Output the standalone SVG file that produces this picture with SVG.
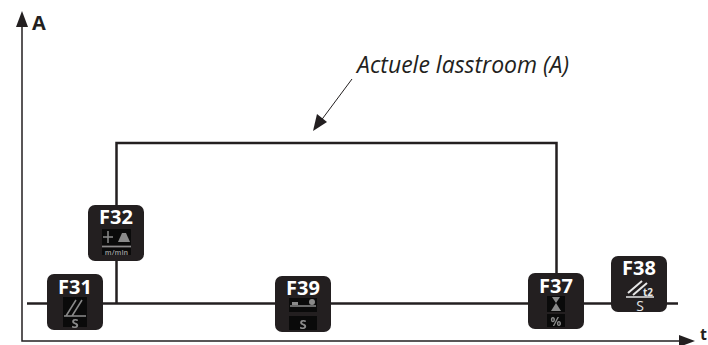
<svg xmlns="http://www.w3.org/2000/svg" width="708" height="345" viewBox="0 0 708 345">
<defs><filter id="soft" x="-10%" y="-10%" width="120%" height="120%"><feGaussianBlur stdDeviation="0.6"/></filter></defs>
<style>
.box{fill:#231f20}
.fn{font:700 20px "Open Sans","Noto Sans",sans-serif;fill:#fff;text-anchor:middle}
.ic{fill:#8a8a8a}
.ict{font:700 13px "Open Sans",sans-serif;fill:#8a8a8a;text-anchor:middle}
.icl{stroke:#8a8a8a;stroke-width:1.5;fill:none}
.blk{fill:#0a0a0a}
.ax{stroke:#231f20;stroke-width:1.5;fill:none}
.ln{stroke:#231f20;stroke-width:2.5;fill:none}
.lab{font-family:"Open Sans","Noto Sans",sans-serif;fill:#231f20}
</style>
<g id="connectors">
<path class="ax" d="M22 27V341H680"/>
<path d="M22 11L28 27H16Z" fill="#231f20"/>
<path d="M695 341L679 335V347Z" fill="#231f20"/>
<path class="ln" d="M27 303.500H678"/>
<path class="ln" d="M116.500 303.500V143H556.500V273"/>
<path d="M352 79L320 122" stroke="#231f20" stroke-width="1" fill="none"/>
<path d="M313 131L317 114L327 122Z" fill="#231f20"/>
</g>
<g id="labels">
<text class="lab" x="32" y="30" font-size="20" font-weight="700">A</text>
<text class="lab" x="700" y="340" font-size="16" font-weight="700">t</text>
<text class="lab" x="357" y="73" font-size="23" font-style="italic">Actuele lasstroom (A)</text>
</g>
<g id="F31">
<rect class="box" x="47" y="274" width="56" height="56" rx="7"/>
<text class="fn" x="75" y="294">F31</text>
<rect class="blk" x="63" y="297" width="24" height="30"/>
<g filter="url(#soft)">
<path class="icl" d="M66 316L76 300M72 316L82 300M64 316H86"/>
<text class="ict" x="75" y="328" font-size="11">S</text>
</g>
</g>
<g id="F32">
<rect class="box" x="88" y="205" width="56" height="56" rx="7"/>
<text class="fn" x="116" y="224">F32</text>
<rect class="blk" x="102" y="229" width="29" height="16"/>
<g filter="url(#soft)">
<path class="icl" d="M103 237H113M108 231V243"/>
<path class="ic" d="M118 242L122 233H126L130 242Z"/>
</g>
<rect class="blk" x="102" y="248" width="29" height="7"/>
<path class="icl" d="M102 246.500H131"/>
<text class="ict" x="116.500" y="255" style="font-size:7px">m/min</text>
</g>
<g id="F39">
<rect class="box" x="275" y="276" width="56" height="56" rx="7"/>
<text class="fn" x="303" y="295">F39</text>
<rect class="blk" x="289" y="298" width="28" height="14"/>
<g filter="url(#soft)">
<path class="icl" d="M290 306H316"/>
<circle class="ic" cx="312" cy="302" r="3"/>
<rect class="ic" x="292" y="302" width="6" height="3"/>
</g>
<rect class="blk" x="289" y="316" width="28" height="14"/>
<text class="ict" x="303" y="329" filter="url(#soft)">S</text>
</g>
<g id="F37">
<rect class="box" x="528" y="273" width="56" height="56" rx="7"/>
<text class="fn" x="556" y="293">F37</text>
<rect class="blk" x="547" y="296" width="18" height="16"/>
<path class="ic" d="M552 297H560L556 303ZM556 303L561 311H551Z" filter="url(#soft)"/>
<rect class="blk" x="547" y="314" width="18" height="13"/>
<text class="ict" x="556" y="326" style="font-size:12px" filter="url(#soft)">%</text>
</g>
<g id="F38">
<rect class="box" x="611" y="256" width="56" height="56" rx="7"/>
<text class="fn" x="639" y="275">F38</text>
<path d="M628 293L642 281M633 295L647 283" stroke="#e6e6e6" stroke-width="2" fill="none"/>
<path d="M626 297H654" stroke="#e6e6e6" stroke-width="1.500"/>
<text x="648" y="296" font-family="'Open Sans',sans-serif" font-size="10" font-weight="700" fill="#e6e6e6" text-anchor="middle">t2</text>
<text x="640" y="311" font-family="'Open Sans',sans-serif" font-size="14" fill="#e6e6e6" text-anchor="middle">S</text>
</g>
</svg>
